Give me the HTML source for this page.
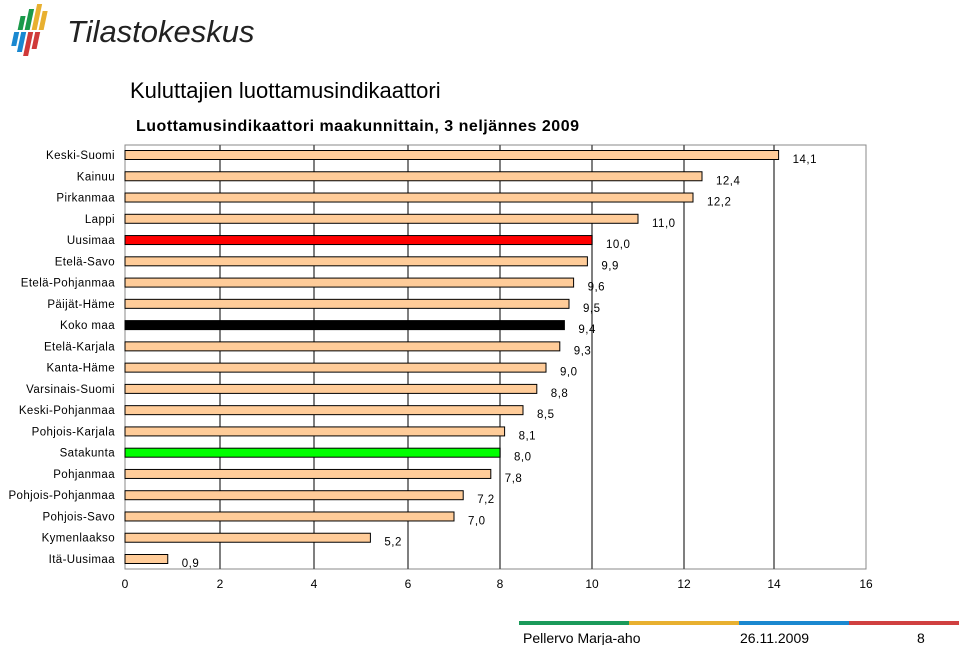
<!DOCTYPE html>
<html><head><meta charset="utf-8"><style>
body{margin:0;background:#fff;width:959px;height:645px;overflow:hidden;font-family:"Liberation Sans",sans-serif;}
</style></head><body>
<svg width="959" height="645" xmlns="http://www.w3.org/2000/svg">
<g>
 <g transform="skewX(-12)">
  <rect x="24" y="16" width="5" height="14" fill="#1a9a4a"/><rect x="31" y="9" width="5" height="21" fill="#1a9a4a"/>
  <rect x="38" y="4" width="5" height="26" fill="#e8b030"/><rect x="45" y="11" width="5" height="19" fill="#e8b030"/>
  <rect x="21" y="32" width="5" height="14" fill="#1a88d0"/><rect x="28" y="32" width="5" height="20" fill="#1a88d0"/>
  <rect x="35" y="32" width="5" height="24" fill="#d03a3a"/><rect x="42" y="32" width="5" height="17" fill="#d03a3a"/>
 </g>
 <text x="67" y="42" font-size="31" font-style="italic" fill="#222">Tilastokeskus</text>
</g>
<text x="130" y="98" font-size="22" fill="#000">Kuluttajien luottamusindikaattori</text>
<text x="136" y="131" font-size="16" font-weight="bold" fill="#000" letter-spacing="0.5">Luottamusindikaattori maakunnittain, 3 neljännes 2009</text>
<g id="chart"></g>
<g>
 <rect x="519" y="621" width="110" height="4" fill="#1a9a5a"/>
 <rect x="629" y="621" width="110" height="4" fill="#e8b030"/>
 <rect x="739" y="621" width="110" height="4" fill="#1a88d0"/>
 <rect x="849" y="621" width="110" height="4" fill="#d04040"/>
 <text x="523" y="643" font-size="14">Pellervo Marja-aho</text>
 <text x="740" y="643" font-size="14">26.11.2009</text>
 <text x="917" y="643" font-size="14">8</text>
</g>
</svg>
<script>
const categories=["Keski-Suomi","Kainuu","Pirkanmaa","Lappi","Uusimaa","Etelä-Savo","Etelä-Pohjanmaa","Päijät-Häme","Koko maa","Etelä-Karjala","Kanta-Häme","Varsinais-Suomi","Keski-Pohjanmaa","Pohjois-Karjala","Satakunta","Pohjanmaa","Pohjois-Pohjanmaa","Pohjois-Savo","Kymenlaakso","Itä-Uusimaa"];
const values=[14.1,12.4,12.2,11.0,10.0,9.9,9.6,9.5,9.4,9.3,9.0,8.8,8.5,8.1,8.0,7.8,7.2,7.0,5.2,0.9];
const labels=["14,1","12,4","12,2","11,0","10,0","9,9","9,6","9,5","9,4","9,3","9,0","8,8","8,5","8,1","8,0","7,8","7,2","7,0","5,2","0,9"];
const highlight={"Uusimaa":"#ff0000","Koko maa":"#000000","Satakunta":"#00ff00"};
const ticks=[0,2,4,6,8,10,12,14,16];
const NS="http://www.w3.org/2000/svg";
const g=document.getElementById('chart');
const tickPx=[125,220,314,408,500,592,684,774,866];
function x(v){const i=Math.min(7,Math.max(0,Math.floor(v/2)));return tickPx[i]+(v-ticks[i])/2*(tickPx[i+1]-tickPx[i]);}
const plotTop=145,plotBottom=569,firstRow=155,rowStep=(559-155)/19;
function y(i){return firstRow+i*rowStep;}
function mk(t,a){const e=document.createElementNS(NS,t);for(const k in a)e.setAttribute(k,a[k]);g.appendChild(e);return e;}
let r=mk('rect',{x:x(0),y:plotTop,width:x(16)-x(0),height:plotBottom-plotTop,fill:'#fff',stroke:'#888'});


ticks.forEach(t=>{
 if(t>0&&t<16){let l=mk('line',{x1:x(t),x2:x(t),y1:plotTop,y2:plotBottom,stroke:'#555','stroke-width':1.5});
 
 }
 let tx=mk('text',{x:x(t),y:588,'font-size':12,'text-anchor':'middle'});tx.textContent=t;
 
 
});
categories.forEach((c,i)=>{
 const cy=y(i);
 let lab=mk('text',{x:115,y:cy+4,'font-size':11.5,'text-anchor':'end','letter-spacing':'0.4'});lab.textContent=c;
 
 
 let b=mk('rect',{x:x(0),y:cy-4.5,width:x(values[i])-x(0),height:9,fill:highlight[c]||'#ffcc99',stroke:'#000','stroke-width':1});
 
 
 let v=mk('text',{x:x(values[i])+14,y:cy+8,'font-size':11.5,'letter-spacing':'0.5'});v.textContent=labels[i];
 
 
});
</script>
</body></html>
